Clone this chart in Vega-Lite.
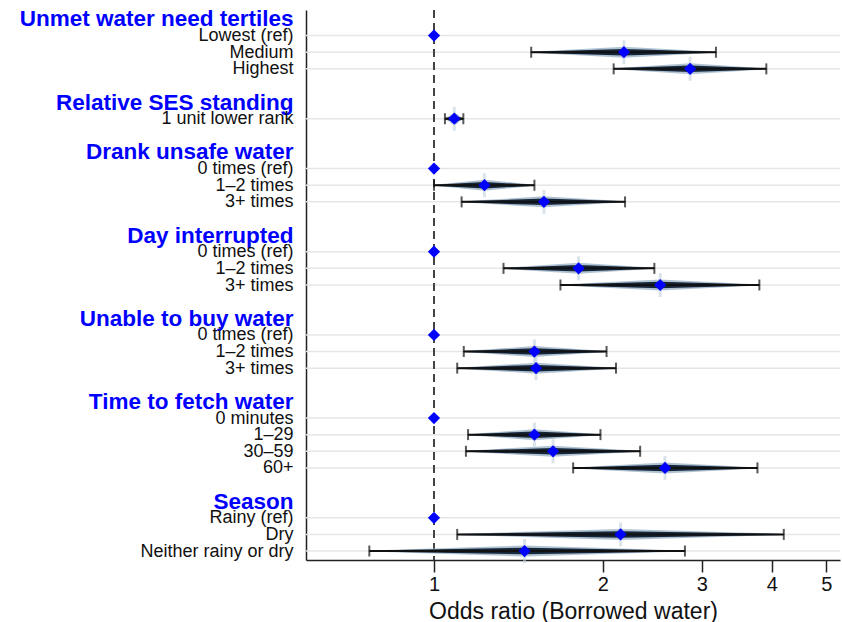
{
  "$schema": "https://vega.github.io/schema/vega-lite/v6.json",
  "autosize": {"type": "none"},
  "padding": {"left": 306, "top": 10, "right": 2, "bottom": 62},
  "width": 534,
  "height": 550,
  "background": "white",
  "config": {"view": {"stroke": null}, "font": "Liberation Sans"},
  "data": {"values": [
    {"key": "01|I|Lowest (ref)", "est": 1},
    {"key": "02|I|Medium", "est": 2.18, "lo": 1.49, "hi": 3.18},
    {"key": "03|I|Highest", "est": 2.86, "lo": 2.09, "hi": 3.91},
    {"key": "06|I|1 unit lower rank", "est": 1.087, "lo": 1.046, "hi": 1.128},
    {"key": "09|I|0 times (ref)", "est": 1},
    {"key": "10|I|1–2 times", "est": 1.23, "lo": 1.0, "hi": 1.51},
    {"key": "11|I|3+ times", "est": 1.57, "lo": 1.12, "hi": 2.19},
    {"key": "14|I|0 times (ref)", "est": 1},
    {"key": "15|I|1–2 times", "est": 1.81, "lo": 1.33, "hi": 2.47},
    {"key": "16|I|3+ times", "est": 2.53, "lo": 1.68, "hi": 3.8},
    {"key": "19|I|0 times (ref)", "est": 1},
    {"key": "20|I|1–2 times", "est": 1.51, "lo": 1.13, "hi": 2.03},
    {"key": "21|I|3+ times", "est": 1.52, "lo": 1.1, "hi": 2.11},
    {"key": "24|I|0 minutes", "est": 1},
    {"key": "25|I|1–29", "est": 1.51, "lo": 1.15, "hi": 1.98},
    {"key": "26|I|30–59", "est": 1.63, "lo": 1.14, "hi": 2.33},
    {"key": "27|I|60+", "est": 2.58, "lo": 1.77, "hi": 3.77},
    {"key": "30|I|Rainy (ref)", "est": 1},
    {"key": "31|I|Dry", "est": 2.15, "lo": 1.1, "hi": 4.2},
    {"key": "32|I|Neither rainy or dry", "est": 1.45, "lo": 0.767, "hi": 2.8}
  ]},
  "encoding": {
    "y": {
      "field": "key",
      "type": "ordinal",
      "scale": {
        "type": "point",
        "padding": 0.54,
        "domain": [
          "00|H|Unmet water need tertiles", "01|I|Lowest (ref)", "02|I|Medium", "03|I|Highest", "04|B|",
          "05|H|Relative SES standing", "06|I|1 unit lower rank", "07|B|",
          "08|H|Drank unsafe water", "09|I|0 times (ref)", "10|I|1–2 times", "11|I|3+ times", "12|B|",
          "13|H|Day interrupted", "14|I|0 times (ref)", "15|I|1–2 times", "16|I|3+ times", "17|B|",
          "18|H|Unable to buy water", "19|I|0 times (ref)", "20|I|1–2 times", "21|I|3+ times", "22|B|",
          "23|H|Time to fetch water", "24|I|0 minutes", "25|I|1–29", "26|I|30–59", "27|I|60+", "28|B|",
          "29|H|Season", "30|I|Rainy (ref)", "31|I|Dry", "32|I|Neither rainy or dry"
        ]
      },
      "axis": {
        "title": null,
        "ticks": false,
        "grid": false,
        "domain": true,
        "domainColor": "#222222",
        "domainWidth": 1.5,
        "labelPadding": 13,
        "labelExpr": "split(datum.value, '|')[2]",
        "labelFont": "Liberation Sans",
        "labelColor": {"condition": {"test": "split(datum.value, '|')[1] == 'H'", "value": "#0000ff"}, "value": "#111111"},
        "labelFontSize": {"condition": {"test": "split(datum.value, '|')[1] == 'H'", "value": 22.5}, "value": 18},
        "labelFontWeight": {"condition": {"test": "split(datum.value, '|')[1] == 'H'", "value": "bold"}, "value": "normal"},
        "labelBaseline": "middle",
        "labelLimit": 320,
        "labelOverlap": false
      }
    }
  },
  "layer": [
    {
      "mark": {"type": "rule", "color": "#e6e6e6", "strokeWidth": 1.5},
      "encoding": {}
    },
    {
      "mark": {"type": "rule", "color": "#444444", "strokeWidth": 1.7, "strokeDash": [8, 5]},
      "encoding": {
        "x": {"datum": 1, "type": "quantitative"},
        "y": null
      }
    },
    {
      "transform": [
        {"filter": "isValid(datum.lo)"},
        {"fold": ["lo", "est", "hi"], "as": ["k", "v"]}
      ],
      "mark": {"type": "trail", "color": "#a3b8ca", "opacity": 0.85},
      "encoding": {
        "x": {"field": "v", "type": "quantitative"},
        "detail": {"field": "key"},
        "order": {"field": "v", "type": "quantitative"},
        "size": {"field": "k", "type": "nominal", "scale": {"type": "ordinal", "domain": ["lo", "est", "hi"], "range": [0, 11, 0]}, "legend": null}
      }
    },
    {
      "transform": [
        {"filter": "isValid(datum.lo)"},
        {"fold": ["lo", "est", "hi"], "as": ["k", "v"]}
      ],
      "mark": {"type": "trail", "color": "#15263a"},
      "encoding": {
        "x": {"field": "v", "type": "quantitative"},
        "detail": {"field": "key"},
        "order": {"field": "v", "type": "quantitative"},
        "size": {"field": "k", "type": "nominal", "scale": {"type": "ordinal", "domain": ["lo", "est", "hi"], "range": [1, 6.5, 1]}, "legend": null}
      }
    },
    {
      "transform": [{"filter": "isValid(datum.lo)"}],
      "mark": {"type": "tick", "color": "#c3d2de", "thickness": 3, "size": 24, "opacity": 0.6},
      "encoding": {"x": {"field": "est", "type": "quantitative"}}
    },
    {
      "transform": [{"filter": "isValid(datum.lo)"}],
      "mark": {"type": "rule", "color": "#111111", "strokeWidth": 2},
      "encoding": {
        "x": {"field": "lo", "type": "quantitative"},
        "x2": {"field": "hi"}
      }
    },
    {
      "transform": [
        {"filter": "isValid(datum.lo)"},
        {"fold": ["lo", "hi"], "as": ["k", "v"]}
      ],
      "mark": {"type": "tick", "color": "#111111", "thickness": 2, "size": 11},
      "encoding": {"x": {"field": "v", "type": "quantitative"}}
    },
    {
      "mark": {"type": "point", "shape": "diamond", "filled": true, "color": "#0000ff", "opacity": 1, "size": 150},
      "encoding": {
        "x": {
          "field": "est",
          "type": "quantitative",
          "scale": {"type": "log", "domain": [0.5915, 5.29], "nice": false, "zero": false},
          "axis": {
            "title": "Odds ratio (Borrowed water)",
            "titleFont": "Liberation Sans",
            "titleFontSize": 23,
            "titleFontWeight": "normal",
            "titleColor": "#111111",
            "titlePadding": 6,
            "values": [1, 2, 3, 4, 5],
            "format": "d",
            "labelFont": "Liberation Sans",
            "labelFontSize": 20,
            "labelColor": "#111111",
            "labelPadding": 2,
            "tickSize": 12,
            "tickWidth": 1.5,
            "tickColor": "#222222",
            "domainColor": "#222222",
            "domainWidth": 1.5,
            "grid": false
          }
        }
      }
    }
  ],
  "resolve": {"scale": {"size": "independent"}}
}
